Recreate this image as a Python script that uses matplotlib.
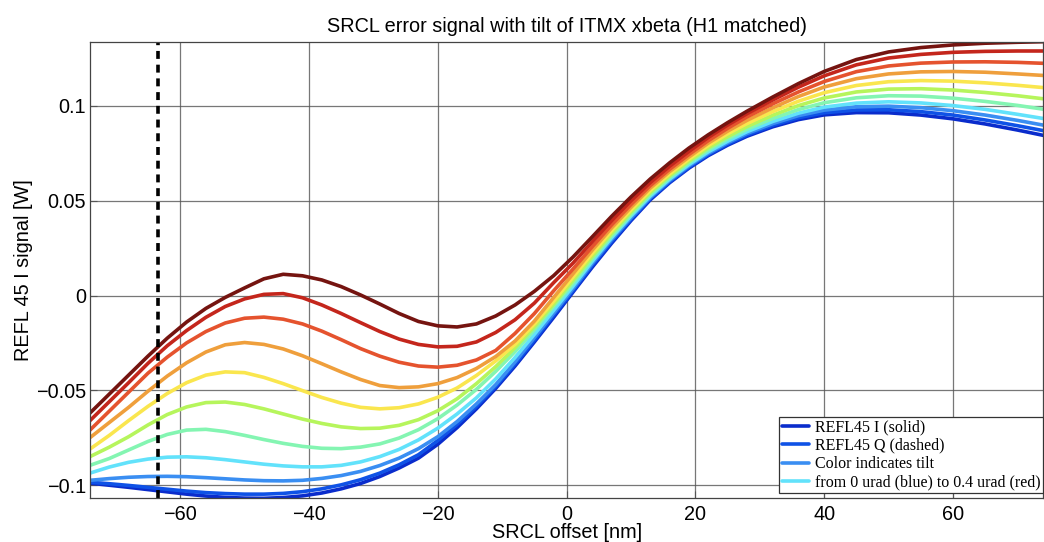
import numpy as np
import matplotlib
matplotlib.use("Agg")
import matplotlib.pyplot as plt

plt.rcParams['font.family'] = ['Liberation Sans', 'DejaVu Sans']

# SRCL offset [nm]
offset = [-74, -71, -68, -65, -62, -59, -56, -53, -50, -47, -44, -41, -38, -35, -32, -29,
          -26, -23, -20, -17, -14, -11, -8, -5, -2, 1, 4, 7, 10, 13, 16, 19, 22, 25, 28,
          32, 36, 40, 45, 50, 55, 60, 65, 70, 74]

# REFL45 I signal [W] for each ITMX tilt (0 urad .. 0.4 urad)
sig_000 = [-0.0990, -0.1001, -0.1012, -0.1024, -0.1036, -0.1048, -0.1058, -0.1065, -0.1069, -0.1070,
           -0.1066, -0.1057, -0.1042, -0.1020, -0.0992, -0.0955, -0.0910, -0.0858, -0.0785, -0.0697,
           -0.0598, -0.0490, -0.0372, -0.0245, -0.0115, 0.0018, 0.0150, 0.0276, 0.0395, 0.0505,
           0.0595, 0.0672, 0.0738, 0.0793, 0.0840, 0.0890, 0.0928, 0.0953, 0.0965, 0.0964,
           0.0952, 0.0932, 0.0905, 0.0873, 0.0845]
sig_004 = [-0.0985, -0.0993, -0.1002, -0.1012, -0.1022, -0.1032, -0.1040, -0.1045, -0.1048, -0.1048,
           -0.1044, -0.1035, -0.1020, -0.0999, -0.0972, -0.0937, -0.0893, -0.0840, -0.0765, -0.0680,
           -0.0585, -0.0480, -0.0362, -0.0235, -0.0104, 0.0026, 0.0160, 0.0285, 0.0402, 0.0511,
           0.0600, 0.0677, 0.0744, 0.0799, 0.0847, 0.0898, 0.0938, 0.0964, 0.0979, 0.0980,
           0.0970, 0.0952, 0.0926, 0.0896, 0.0870]
sig_008 = [-0.0975, -0.0966, -0.0959, -0.0955, -0.0954, -0.0956, -0.0961, -0.0967, -0.0973, -0.0977,
           -0.0978, -0.0975, -0.0965, -0.0950, -0.0928, -0.0897, -0.0858, -0.0808, -0.0745, -0.0665,
           -0.0572, -0.0470, -0.0350, -0.0222, -0.0093, 0.0036, 0.0170, 0.0295, 0.0410, 0.0517,
           0.0607, 0.0684, 0.0750, 0.0806, 0.0855, 0.0907, 0.0949, 0.0978, 0.0996, 0.0999,
           0.0991, 0.0975, 0.0952, 0.0924, 0.0899]
sig_012 = [-0.0937, -0.0905, -0.0880, -0.0863, -0.0853, -0.0851, -0.0856, -0.0866, -0.0878, -0.0890,
           -0.0899, -0.0904, -0.0904, -0.0896, -0.0878, -0.0850, -0.0812, -0.0762, -0.0700, -0.0625,
           -0.0540, -0.0440, -0.0327, -0.0205, -0.0078, 0.0049, 0.0181, 0.0305, 0.0420, 0.0525,
           0.0614, 0.0691, 0.0758, 0.0814, 0.0864, 0.0918, 0.0962, 0.0994, 0.1015, 0.1022,
           0.1016, 0.1002, 0.0982, 0.0956, 0.0934]
sig_016 = [-0.0896, -0.0860, -0.0815, -0.0770, -0.0733, -0.0710, -0.0706, -0.0718, -0.0738, -0.0760,
           -0.0780, -0.0796, -0.0806, -0.0808, -0.0800, -0.0783, -0.0752, -0.0708, -0.0650, -0.0578,
           -0.0495, -0.0400, -0.0296, -0.0181, -0.0058, 0.0064, 0.0193, 0.0315, 0.0428, 0.0534,
           0.0622, 0.0700, 0.0768, 0.0826, 0.0877, 0.0934, 0.0981, 0.1017, 0.1043, 0.1054,
           0.1052, 0.1041, 0.1024, 0.1003, 0.0983]
sig_020 = [-0.0850, -0.0800, -0.0745, -0.0683, -0.0628, -0.0588, -0.0565, -0.0562, -0.0575, -0.0598,
           -0.0625, -0.0652, -0.0675, -0.0693, -0.0702, -0.0700, -0.0685, -0.0655, -0.0608, -0.0545,
           -0.0465, -0.0375, -0.0275, -0.0165, -0.0045, 0.0080, 0.0207, 0.0328, 0.0440, 0.0544,
           0.0632, 0.0709, 0.0779, 0.0838, 0.0891, 0.0951, 0.1002, 0.1042, 0.1074, 0.1089,
           0.1091, 0.1084, 0.1071, 0.1054, 0.1038]
sig_024 = [-0.0810, -0.0738, -0.0660, -0.0585, -0.0517, -0.0460, -0.0420, -0.0403, -0.0407, -0.0432,
           -0.0465, -0.0502, -0.0538, -0.0568, -0.0590, -0.0598, -0.0592, -0.0572, -0.0537, -0.0488,
           -0.0422, -0.0345, -0.0258, -0.0150, -0.0030, 0.0097, 0.0223, 0.0342, 0.0452, 0.0555,
           0.0642, 0.0720, 0.0791, 0.0853, 0.0907, 0.0970, 0.1025, 0.1070, 0.1108, 0.1128,
           0.1134, 0.1131, 0.1122, 0.1109, 0.1097]
sig_028 = [-0.0750, -0.0670, -0.0590, -0.0505, -0.0425, -0.0355, -0.0298, -0.0260, -0.0248, -0.0258,
           -0.0282, -0.0318, -0.0360, -0.0403, -0.0443, -0.0475, -0.0486, -0.0482, -0.0465, -0.0433,
           -0.0385, -0.0322, -0.0240, -0.0135, -0.0010, 0.0115, 0.0240, 0.0357, 0.0465, 0.0567,
           0.0654, 0.0731, 0.0804, 0.0867, 0.0924, 0.0990, 0.1050, 0.1100, 0.1144, 0.1169,
           0.1180, 0.1182, 0.1178, 0.1169, 0.1161]
sig_032 = [-0.0710, -0.0610, -0.0510, -0.0410, -0.0325, -0.0250, -0.0190, -0.0145, -0.0120, -0.0114,
           -0.0125, -0.0150, -0.0188, -0.0233, -0.0280, -0.0320, -0.0352, -0.0372, -0.0378, -0.0368,
           -0.0340, -0.0290, -0.0200, -0.0095, 0.0025, 0.0140, 0.0258, 0.0373, 0.0480, 0.0580,
           0.0666, 0.0744, 0.0817, 0.0882, 0.0942, 0.1011, 0.1074, 0.1129, 0.1181, 0.1211,
           0.1226, 0.1232, 0.1233, 0.1230, 0.1225]
sig_036 = [-0.0660, -0.0560, -0.0460, -0.0358, -0.0265, -0.0185, -0.0115, -0.0058, -0.0018, 0.0006,
           0.0010, -0.0012, -0.0050, -0.0095, -0.0143, -0.0190, -0.0230, -0.0258, -0.0271, -0.0268,
           -0.0245, -0.0195, -0.0128, -0.0040, 0.0068, 0.0171, 0.0284, 0.0395, 0.0500, 0.0596,
           0.0682, 0.0760, 0.0834, 0.0899, 0.0959, 0.1031, 0.1099, 0.1159, 0.1217, 0.1253,
           0.1272, 0.1283, 0.1288, 0.1290, 0.1290]
sig_040 = [-0.0620, -0.0520, -0.0420, -0.0320, -0.0225, -0.0140, -0.0068, -0.0010, 0.0040, 0.0088,
           0.0112, 0.0104, 0.0082, 0.0047, 0.0003, -0.0045, -0.0095, -0.0137, -0.0160, -0.0166,
           -0.0150, -0.0108, -0.0050, 0.0022, 0.0105, 0.0203, 0.0310, 0.0418, 0.0520, 0.0615,
           0.0700, 0.0778, 0.0848, 0.0912, 0.0972, 0.1047, 0.1118, 0.1182, 0.1245, 0.1285,
           0.1308, 0.1322, 0.1331, 0.1336, 0.1339]

signals = [sig_000, sig_004, sig_008, sig_012, sig_016, sig_020,
           sig_024, sig_028, sig_032, sig_036, sig_040]

colors = ['#0a2ccc', '#0f52e6', '#3a8ef2', '#62e2fb', '#84f5b2', '#b6f55c',
          '#fae64e', '#ef9f3c', '#e5532e', '#c4261c', '#751410']

legend_labels = ['REFL45 I (solid)', 'REFL45 Q (dashed)', 'Color indicates tilt',
                 'from 0 urad (blue) to 0.4 urad (red)']

marker_offset = -63.5

fig = plt.figure(figsize=(10.44, 5.42), dpi=100)
ax = fig.add_axes([0.0862, 0.0806, 0.913, 0.8428])

lines = []
for sig, c in zip(signals, colors):
    ln, = ax.plot(offset, sig, color=c, lw=2.6, solid_capstyle='round',
                  solid_joinstyle='round')
    lines.append(ln)

ax.axvline(marker_offset, color='k', lw=2.6, linestyle=(0, (2.2, 1.6)))

ax.set_xlim(-74, 74)
ax.set_ylim(-0.107, 0.134)
ax.set_xticks([-60, -40, -20, 0, 20, 40, 60])
ax.set_xticklabels(['\u221260', '\u221240', '\u221220', '0', '20', '40', '60'])
ax.set_yticks([-0.1, -0.05, 0, 0.05, 0.1])
ax.set_yticklabels(['\u22120.1', '\u22120.05', '0', '0.05', '0.1'])
ax.tick_params(direction='in', labelsize=14.3, length=5, color='#555555')
ax.tick_params(axis='x', pad=5)
ax.tick_params(axis='y', pad=3)
ax.grid(True, color='#555555', lw=0.9, alpha=0.8)
for s in ax.spines.values():
    s.set_color('#444444')
    s.set_linewidth(0.9)

ax.set_title('SRCL error signal with tilt of ITMX xbeta (H1 matched)', fontsize=14.3, pad=7)
ax.set_xlabel('SRCL offset [nm]', fontsize=14.3, labelpad=-1)
ax.set_ylabel('REFL 45 I signal [W]', fontsize=14.3, labelpad=2)

leg = ax.legend(lines[:4], legend_labels, loc='lower right', bbox_to_anchor=(1.0, 0.0116),
                borderaxespad=0, fancybox=False,
                prop={'family': 'Liberation Serif', 'size': 11.5}, handlelength=1.7,
                handletextpad=0.4, labelspacing=0.15, borderpad=0.15,
                framealpha=1)
leg.get_frame().set_edgecolor('#333333')
leg.get_frame().set_linewidth(0.9)

fig.savefig('out.png', dpi=100)
